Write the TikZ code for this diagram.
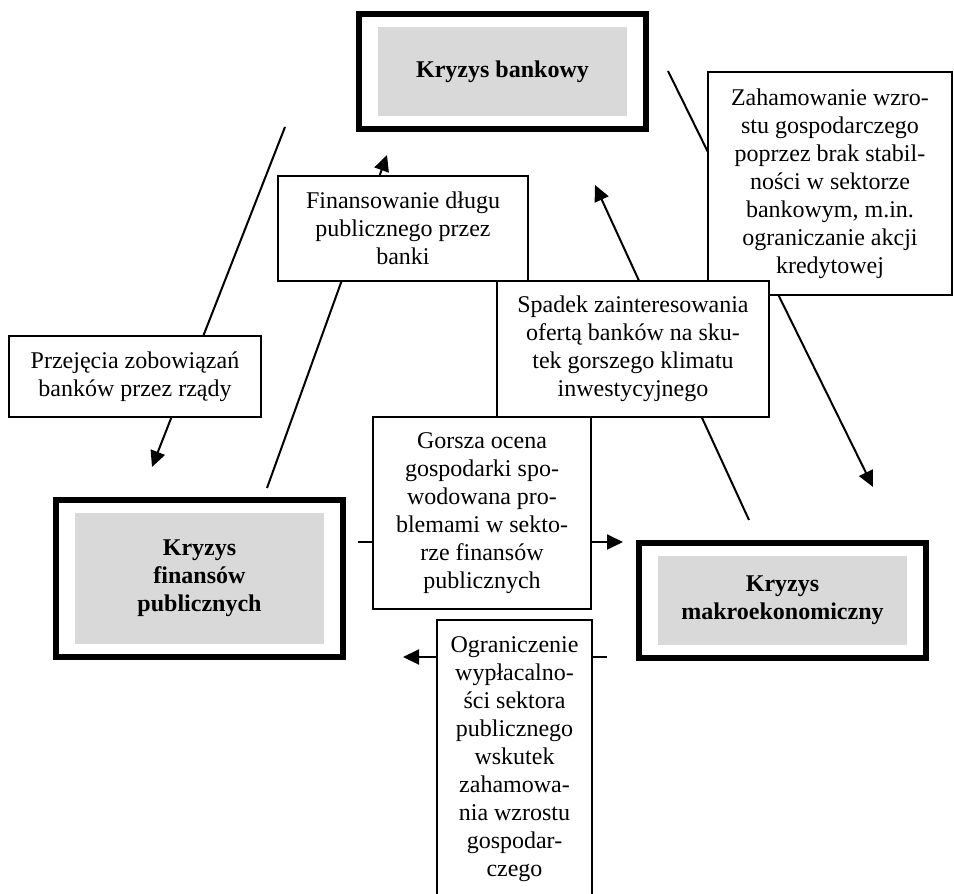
\documentclass[tikz,border=0pt]{standalone}
\usepackage{fontspec}
\setmainfont{Liberation Serif}
\usetikzlibrary{arrows.meta}
\usetikzlibrary{fit}
\definecolor{crisisgray}{HTML}{D9D9D9}
\tikzset{
  crisis/.style={fill=crisisgray, inner sep=0pt, align=center, minimum width=124.5pt,
    font=\fontsize{12}{14}\selectfont\bfseries},
  crisisframe/.style={draw, line width=3pt, inner xsep=9.5pt, inner ysep=6.5pt},
  effectbox/.style={draw, line width=1pt, fill=white, inner sep=0pt, align=center,
    font=\fontsize{12}{14}\selectfont},
  link/.style={line width=1pt, -{Triangle[length=8pt,width=7.5pt]}}
}
\begin{document}
\begin{tikzpicture}[x=0.5pt,y=-0.5pt]
\useasboundingbox (0,0) rectangle (954,894);
\clip (0,0) rectangle (954,894);

% arrow ends
\coordinate (bank out1) at (285,127);
\coordinate (fin in1) at (152,467);
\coordinate (fin out1) at (267,488);
\coordinate (bank in1) at (387,155);
\coordinate (macro out1) at (749,520);
\coordinate (bank in2) at (595,185);
\coordinate (bank out2) at (668,71);
\coordinate (macro in1) at (873,487);
\coordinate (fin out2) at (358,542);
\coordinate (macro in2) at (623,542);
\coordinate (macro out2) at (607,657);
\coordinate (fin in2) at (403,657);

\draw[link] (bank out1) -- (fin in1);
\draw[link] (fin out1) -- (bank in1);
\draw[link] (macro out1) -- (bank in2);
\draw[link] (bank out2) -- (macro in1);
\draw[link] (fin out2) -- (macro in2);
\draw[link] (macro out2) -- (fin in2);

% crises
\node[crisis, minimum height=44.5pt] (bank) at (502.5,71.5) {Kryzys bankowy};
\node[crisisframe, fit=(bank)] (bank frame) {};
\node[crisis, minimum height=65.5pt] (fin) at (199.5,578.5) {Kryzys\\finansów\\publicznych};
\node[crisisframe, fit=(fin)] (fin frame) {};
\node[crisis, minimum height=44.5pt] (macro) at (782.5,600.5) {Kryzys\\makroekonomiczny};
\node[crisisframe, fit=(macro)] (macro frame) {};

% channels
\node[effectbox, minimum width=126pt, minimum height=40.5pt] (takeover) at (135,376.5)
  {Przejęcia zobowiązań\\banków przez rządy};
\node[effectbox, minimum width=125pt, minimum height=52.5pt] (funding) at (403,228.5)
  {Finansowanie długu\\publicznego przez\\banki};
\node[effectbox, minimum width=122pt, minimum height=111.5pt] (slowdown) at (830,183.5)
  {Zahamowanie wzro-\\stu gospodarczego\\poprzez brak stabil-\\ności w sektorze\\bankowym, m.in.\\ograniczanie akcji\\kredytowej};
\node[effectbox, minimum width=136pt, minimum height=68pt] (demand) at (633,349)
  {Spadek zainteresowania\\ofertą banków na sku-\\tek gorszego klimatu\\inwestycyjnego};
\node[effectbox, minimum width=109pt, minimum height=96pt] (rating) at (482,513)
  {Gorsza ocena\\gospodarki spo-\\wodowana pro-\\blemami w sekto-\\rze finansów\\publicznych};
\node[effectbox, minimum width=77.5pt, inner ysep=8.5pt, anchor=north] (solvency) at (514.5,619)
  {Ograniczenie\\wypłacalno-\\ści sektora\\publicznego\\wskutek\\zahamowa-\\nia wzrostu\\gospodar-\\czego};
\end{tikzpicture}
\end{document}
